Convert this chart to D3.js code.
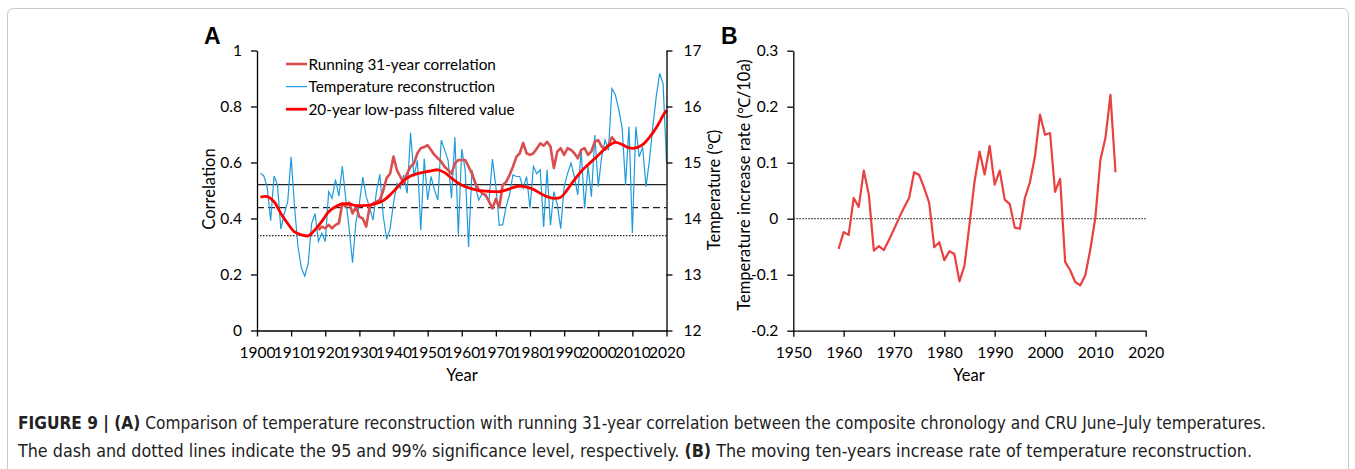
<!DOCTYPE html>
<html>
<head>
<meta charset="utf-8">
<script src="https://cdnjs.cloudflare.com/ajax/libs/d3/7.8.5/d3.min.js"></script>
<style>
  body { margin: 0; background: #fff; }
  svg { display: block; }
  .axis path, .axis line { stroke: #000; stroke-width: 1.3; }
  .axis text { font-family: Lato, "Open Sans", sans-serif; font-size: 15.5px; fill: #000; }
  .title { font-family: Lato, "Open Sans", sans-serif; font-size: 16.5px; fill: #000; }
  .legend text { font-family: Lato, "Open Sans", sans-serif; font-size: 15.3px; fill: #000; }
  .caption { font-family: "Liberation Sans Narrow", "DejaVu Sans Condensed", sans-serif; font-size: 17px; fill: #222; }
</style>
</head>
<body>
<div id="figure"></div>
<script>

// ---- panel A data
var tempYears = d3.range(1901, 2021);
var temperature = [
  14.81, 14.76, 14.55, 13.96, 14.76, 14.60, 13.81, 14.09, 14.30, 15.10,
  14.21, 13.50, 13.12, 12.97, 13.20, 13.91, 14.09, 13.59, 13.74, 13.59,
  14.48, 14.36, 14.70, 14.40, 14.93, 14.36, 13.82, 13.21, 13.94, 14.27,
  14.74, 14.39, 14.20, 13.97, 14.48, 14.79, 14.04, 13.63, 13.82, 14.27,
  14.63, 14.54, 14.78, 14.45, 15.53, 14.75, 15.04, 13.79, 15.07, 14.33,
  14.75, 14.51, 14.33, 15.40, 15.22, 15.04, 14.36, 15.45, 13.71, 15.24,
  14.87, 13.49, 14.87, 14.57, 14.33, 14.45, 14.39, 14.33, 15.06, 14.57,
  13.88, 13.89, 14.21, 14.42, 14.78, 14.75, 14.75, 14.54, 14.75, 14.18,
  14.93, 14.80, 14.87, 13.85, 14.87, 13.88, 14.48, 14.25, 13.82, 14.57,
  14.80, 14.99, 14.75, 14.42, 15.22, 14.18, 14.93, 14.39, 15.49, 14.57,
  15.10, 15.40, 15.22, 16.32, 16.21, 15.95, 15.62, 14.60, 15.64, 13.74,
  15.64, 15.10, 15.28, 14.57, 15.04, 15.64, 16.18, 16.59, 16.41, 15.01
];

var corrYears = d3.range(1918, 2006);
var correlation = [
  0.359, 0.371, 0.365, 0.377, 0.365, 0.377, 0.383, 0.454, 0.442, 0.457,
  0.418, 0.442, 0.406, 0.400, 0.371, 0.442, 0.454, 0.460, 0.466, 0.500,
  0.545, 0.560, 0.621, 0.573, 0.549, 0.526, 0.561, 0.585, 0.597, 0.633,
  0.651, 0.655, 0.662, 0.645, 0.627, 0.615, 0.603, 0.585, 0.573, 0.560,
  0.597, 0.609, 0.609, 0.609, 0.585, 0.560, 0.526, 0.502, 0.490, 0.484,
  0.460, 0.436, 0.470, 0.440, 0.520, 0.530, 0.555, 0.585, 0.620, 0.633,
  0.670, 0.633, 0.627, 0.633, 0.650, 0.668, 0.660, 0.674, 0.657, 0.580,
  0.639, 0.651, 0.627, 0.651, 0.645, 0.633, 0.615, 0.645, 0.651, 0.627,
  0.640, 0.674, 0.680, 0.657, 0.645, 0.662, 0.690, 0.675
];

// 20-year low-pass values read every two years
var filterYears = [
  1901, 1903, 1905, 1907, 1909, 1911, 1913, 1915, 1917, 1919,
  1921, 1923, 1925, 1927, 1929, 1931, 1933, 1935, 1937, 1939,
  1941, 1943, 1945, 1947, 1949, 1951, 1953, 1955, 1957, 1959,
  1961, 1963, 1965, 1967, 1969, 1971, 1973, 1975, 1977, 1979,
  1981, 1983, 1985, 1987, 1989, 1991, 1993, 1995, 1997, 1999,
  2001, 2003, 2005, 2007, 2009, 2011, 2013, 2015, 2017, 2019, 2020
];
var filterValues = [
  14.38, 14.39, 14.30, 14.09, 13.91, 13.76, 13.71, 13.69, 13.80, 13.95,
  14.12, 14.21, 14.26, 14.26, 14.23, 14.23, 14.24, 14.27, 14.32, 14.42,
  14.55, 14.68, 14.76, 14.80, 14.83, 14.85, 14.87, 14.82, 14.72, 14.63,
  14.57, 14.53, 14.50, 14.49, 14.48, 14.48, 14.51, 14.55, 14.58, 14.56,
  14.52, 14.45, 14.39, 14.36, 14.38, 14.52, 14.69, 14.84, 14.96, 15.07,
  15.19, 15.30, 15.36, 15.32, 15.26, 15.26, 15.32, 15.45, 15.62, 15.84, 15.93
];

// solid reference line, 95% (dash) and 99% (dotted) significance
var sigLevels = [0.521, 0.439, 0.339];
var sigDash = [null, "7,4", "1.5,1.5"];

var legendLabels = ["Running 31-year correlation", "Temperature reconstruction", "20-year low-pass filtered value"];

var corrTicks = [0, 0.2, 0.4, 0.6, 0.8, 1];
var tempTicks = [12, 13, 14, 15, 16, 17];
var yearTicksA = d3.range(1900, 2021, 10);

// ---- panel B data
var rateYears = d3.range(1959, 2015);
var rate = [
  -0.054, -0.024, -0.029, 0.037, 0.021, 0.086, 0.043, -0.057, -0.049, -0.056,
  -0.038, -0.019, 0.001, 0.020, 0.037, 0.083, 0.078, 0.055, 0.028, -0.051,
  -0.042, -0.074, -0.058, -0.063, -0.112, -0.084, -0.010, 0.066, 0.120, 0.079,
  0.130, 0.061, 0.086, 0.034, 0.026, -0.016, -0.018, 0.037, 0.065, 0.111,
  0.186, 0.150, 0.153, 0.048, 0.071, -0.077, -0.092, -0.113, -0.119, -0.101,
  -0.055, 0.002, 0.105, 0.144, 0.221, 0.083
];
var rateTicks = [-0.2, -0.1, 0, 0.1, 0.2, 0.3];
var yearTicksB = d3.range(1950, 2021, 10);


var svg = d3.select("#figure")
  .append("svg")
    .attr("width", 1355)
    .attr("height", 469);

// frame round the figure
svg.append("rect")
    .attr("x", 7.5).attr("y", 8.5)
    .attr("width", 1341).attr("height", 480)
    .attr("rx", 6)
    .attr("fill", "none")
    .attr("stroke", "#c9c9c9");


// ================= panel A
var xA = d3.scaleLinear().domain([1900, 2020]).range([257, 666.5]);
var yCorr = d3.scaleLinear().domain([0, 1]).range([330.5, 50.5]);
var yTemp = d3.scaleLinear().domain([12, 17]).range([330.5, 50.5]);

var gA = svg.append("g");

gA.selectAll(".sig")
    .data(sigLevels)
  .enter().append("line")
    .attr("class", "sig")
    .attr("x1", xA(1900)).attr("x2", xA(2020))
    .attr("y1", function(d) { return yCorr(d); })
    .attr("y2", function(d) { return yCorr(d); })
    .attr("stroke", "#222")
    .attr("stroke-width", function(d, i) { return i == 2 ? 1.2 : 1.3; })
    .attr("stroke-dasharray", function(d, i) { return sigDash[i]; });

var tempLine = d3.line()
    .x(function(d, i) { return xA(tempYears[i]); })
    .y(function(d) { return yTemp(d); });

gA.append("path")
    .datum(temperature)
    .attr("d", tempLine)
    .attr("fill", "none")
    .attr("stroke", "#1f9bdb")
    .attr("stroke-width", 1.2);

var corrLine = d3.line()
    .x(function(d, i) { return xA(corrYears[i]); })
    .y(function(d) { return yCorr(d); });

gA.append("path")
    .datum(correlation)
    .attr("d", corrLine)
    .attr("fill", "none")
    .attr("stroke", "#d94f4f")
    .attr("stroke-width", 2.6)
    .attr("stroke-linejoin", "round");

var filterLine = d3.line()
    .curve(d3.curveCatmullRom.alpha(0.5))
    .x(function(d, i) { return xA(filterYears[i]); })
    .y(function(d) { return yTemp(d); });

gA.append("path")
    .datum(filterValues)
    .attr("d", filterLine)
    .attr("fill", "none")
    .attr("stroke", "#ff0000")
    .attr("stroke-width", 2.8);

// axes
gA.append("g")
    .attr("class", "axis")
    .attr("transform", "translate(" + xA(1900) + ",0)")
    .call(d3.axisLeft(yCorr).tickValues(corrTicks).tickFormat(function(d) { return String(d); })
      .tickSize(6).tickSizeOuter(0).tickPadding(9));

gA.append("g")
    .attr("class", "axis")
    .attr("transform", "translate(" + xA(2020) + ",0)")
    .call(d3.axisRight(yTemp).tickValues(tempTicks).tickFormat(function(d) { return String(d); })
      .tickSize(6).tickSizeOuter(0).tickPadding(11));

gA.append("g")
    .attr("class", "axis")
    .attr("transform", "translate(0," + yCorr(0) + ")")
    .call(d3.axisBottom(xA).tickValues(yearTicksA).tickFormat(function(d) { return String(d); })
      .tickSize(6).tickSizeOuter(0).tickPadding(10));

// legend
var legend = gA.append("g").attr("class", "legend");
var legendColors = ["#d94f4f", "#1f9bdb", "#ff0000"];
var legendWidths = [2.6, 1.2, 2.8];
var legendRows = legend.selectAll(".row")
    .data(legendLabels)
  .enter().append("g")
    .attr("transform", function(d, i) { return "translate(286," + (64 + i * 22.6) + ")"; });
legendRows.append("line")
    .attr("x1", 0).attr("x2", 21)
    .attr("stroke", function(d, i) { return legendColors[i]; })
    .attr("stroke-width", function(d, i) { return legendWidths[i]; });
legendRows.append("text")
    .attr("x", 22.5).attr("dy", "0.36em")
    .text(function(d) { return d; });

// titles
gA.append("text").attr("class", "title")
    .attr("transform", "translate(215,189) rotate(-90)")
    .style("text-anchor", "middle")
    .text("Correlation");
gA.append("text").attr("class", "title")
    .attr("transform", "translate(720,190) rotate(-90)")
    .style("text-anchor", "middle")
    .text("Temperature (℃)");
gA.append("text").attr("class", "title")
    .attr("x", 462).attr("y", 381)
    .style("text-anchor", "middle")
    .text("Year");
gA.append("text")
    .attr("x", 204).attr("y", 44)
    .style("font-family", "'Liberation Sans', Arial, sans-serif")
    .style("font-weight", "bold").style("font-size", "23px")
    .text("A");


// ================= panel B
var xB = d3.scaleLinear().domain([1950, 2020]).range([793.3, 1145.7]);
var yB = d3.scaleLinear().domain([-0.2, 0.3]).range([330.7, 50.7]);

var gB = svg.append("g");

gB.append("line")
    .attr("x1", xB(1950)).attr("x2", xB(2020))
    .attr("y1", yB(0)).attr("y2", yB(0))
    .attr("stroke", "#333")
    .attr("stroke-width", 1.2)
    .attr("stroke-dasharray", "1.5,1.5");

var rateLine = d3.line()
    .x(function(d, i) { return xB(rateYears[i]); })
    .y(function(d) { return yB(d); });

gB.append("path")
    .datum(rate)
    .attr("d", rateLine)
    .attr("fill", "none")
    .attr("stroke", "#e8413f")
    .attr("stroke-width", 2.2)
    .attr("stroke-linejoin", "round");

gB.append("g")
    .attr("class", "axis")
    .attr("transform", "translate(" + xB(1950) + ",0)")
    .call(d3.axisLeft(yB).tickValues(rateTicks).tickFormat(function(d) { return String(d); })
      .tickSize(6).tickSizeOuter(0).tickPadding(9));

gB.append("g")
    .attr("class", "axis")
    .attr("transform", "translate(0," + yB(-0.2) + ")")
    .call(d3.axisBottom(xB).tickValues(yearTicksB).tickFormat(function(d) { return String(d); })
      .tickSize(6).tickSizeOuter(0).tickPadding(10));

gB.append("text").attr("class", "title")
    .attr("transform", "translate(750,185) rotate(-90)")
    .style("text-anchor", "middle")
    .text("Temperature increase rate (℃/10a)");
gB.append("text").attr("class", "title")
    .attr("x", 969).attr("y", 381)
    .style("text-anchor", "middle")
    .text("Year");
gB.append("text")
    .attr("x", 721).attr("y", 44)
    .style("font-family", "'Liberation Sans', Arial, sans-serif")
    .style("font-weight", "bold").style("font-size", "23px")
    .text("B");


// ================= caption
var cap1 = svg.append("text").attr("class", "caption")
    .attr("x", 18).attr("y", 429)
    .attr("textLength", 1248).attr("lengthAdjust", "spacingAndGlyphs");
cap1.append("tspan").style("font-weight", "bold").text("FIGURE 9 | (A)");
cap1.append("tspan").text(" Comparison of temperature reconstruction with running 31-year correlation between the composite chronology and CRU June–July temperatures.");

var cap2 = svg.append("text").attr("class", "caption")
    .attr("x", 18).attr("y", 457)
    .attr("textLength", 1234).attr("lengthAdjust", "spacingAndGlyphs");
cap2.append("tspan").text("The dash and dotted lines indicate the 95 and 99% significance level, respectively. ");
cap2.append("tspan").style("font-weight", "bold").text("(B)");
cap2.append("tspan").text(" The moving ten-years increase rate of temperature reconstruction.");

</script>
</body>
</html>
